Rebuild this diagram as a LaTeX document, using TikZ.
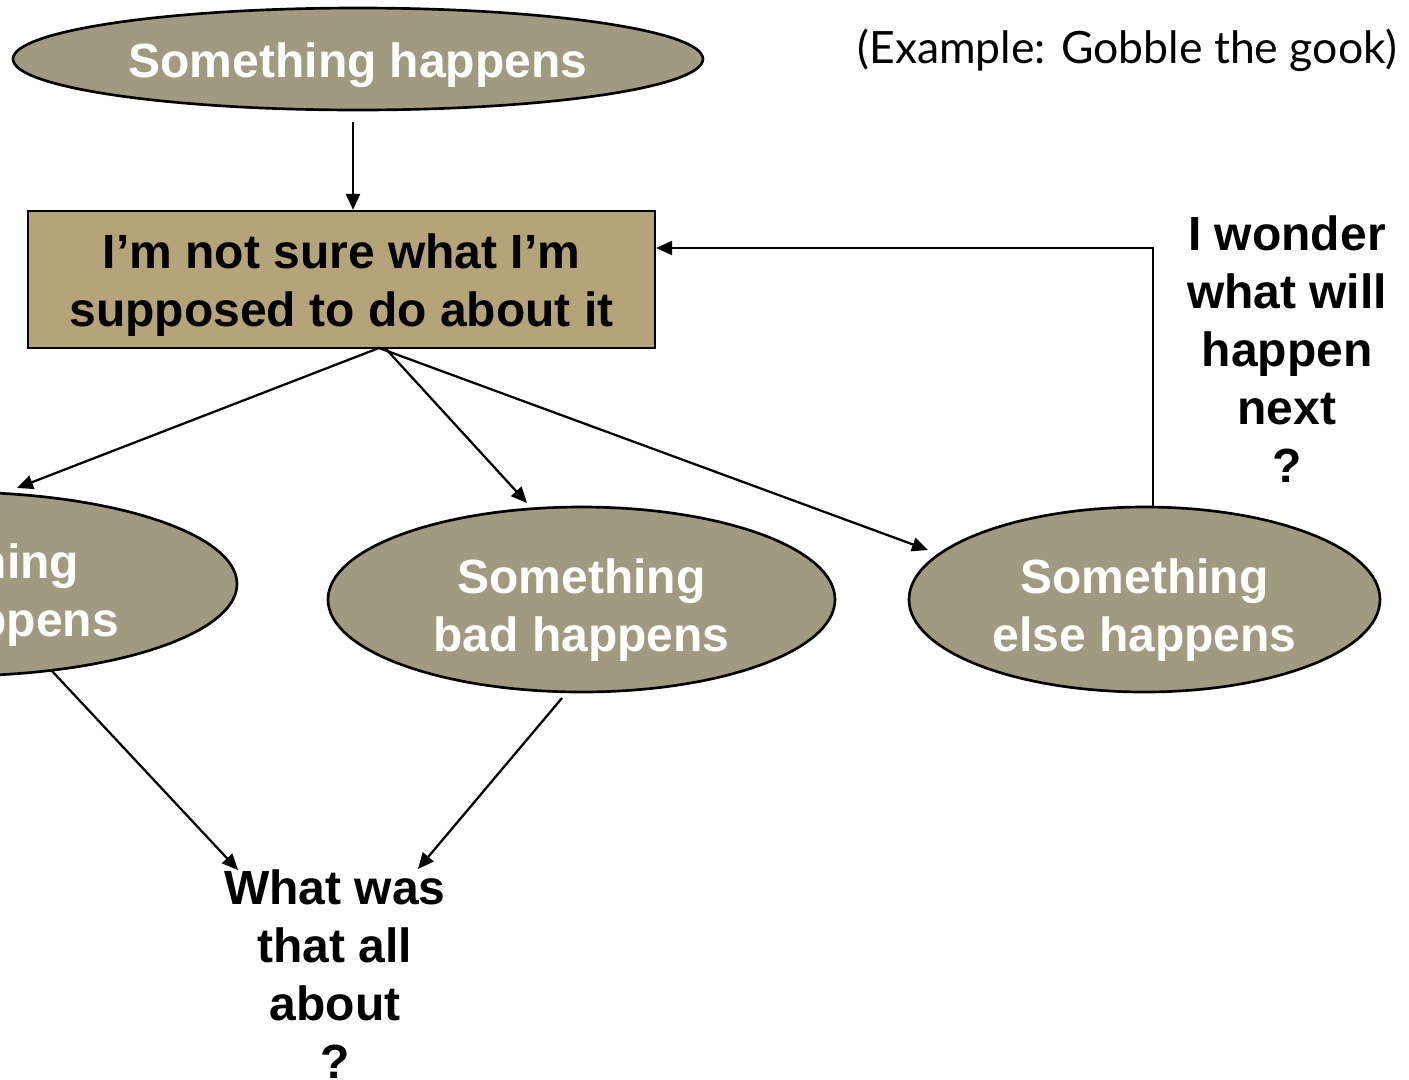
\documentclass[tikz,border=0pt]{standalone}
\usepackage{fontspec}
\setmainfont{Liberation Sans}
\newfontfamily\notefont{Lato}
\usetikzlibrary{arrows.meta,shapes.geometric}
\definecolor{ovalfill}{RGB}{162,154,128}
\definecolor{boxfill}{RGB}{181,164,122}
\begin{document}
\begin{tikzpicture}[x=0.75pt,y=-0.75pt,
  oval/.style={ellipse, draw=black, line width=2pt, fill=ovalfill, inner sep=0pt},
  % multi-line labels are placed by the baseline of their last line
  lbl/.style={font=\fontsize{36}{43.5}\selectfont\bfseries, align=center, inner sep=0pt, anchor=base},
  arr/.style={line width=1.7pt, -{Triangle[length=12pt,width=10.5pt]}},
]
\useasboundingbox (0,0) rectangle (1409,1079);
\clip (0,0) rectangle (1409,1079);

% shapes
\node[oval, minimum width=517.5pt, minimum height=76.5pt] (start) at (358,59) {};
\node[draw=black, line width=1.7pt, fill=boxfill, minimum width=470.25pt, minimum height=102.75pt, inner sep=0pt] (box) at (341.5,279.5) {};
\node[oval, minimum width=426pt, minimum height=138pt] (good) at (-47,584) {};
\node[oval, minimum width=380.25pt, minimum height=138.75pt] (bad) at (581.5,599.5) {};
\node[oval, minimum width=353.25pt, minimum height=138.75pt] (else) at (1144.5,599.5) {};

% texts
\node[lbl, text=white] (tstart) at (358,77) {Something happens};
\node[lbl] (tbox) at (341.5,326) {I’m not sure what I’m\\supposed to do about it};
\node[lbl, text=white] (tgood) at (-45,636) {Something\\good happens};
\node[lbl, text=white] (tbad) at (581.5,651) {Something\\bad happens};
\node[lbl, text=white] (telse) at (1144.5,651) {Something\\else happens};
\node[lbl] (wonder) at (1287,482) {I wonder\\what will\\happen\\next\\?};
\node[lbl] (what) at (335,1078) {What was\\that all\\about\\?};
\node[anchor=base, inner sep=0pt, font=\notefont\fontsize{33.4}{40}\selectfont] (note) at (1127.5,63) {(Example: Gobble the gook)};

% connectors
\coordinate (t1) at (353,122);
\draw[arr] (t1) -- (t1 |- box.north);
\coordinate (s1) at (379,348);
\coordinate (s2) at (386,349);
\coordinate (e1) at (17,488);
\coordinate (e2) at (527,503);
\coordinate (e3) at (928,550);
\draw[arr] (s1) -- (e1);
\draw[arr] (s2) -- (e2);
\draw[arr] (s1) -- (e3);
\coordinate (fb) at (1153,507);
\coordinate (fbin) at (box.east |- 0,248);
\draw[arr] (fb) |- (fbin);
\coordinate (g1) at (52,671);
\coordinate (q1) at (238,870);
\coordinate (b1) at (562,698);
\coordinate (q2) at (418,869);
\draw[arr] (g1) -- (q1);
\draw[arr] (b1) -- (q2);
\end{tikzpicture}
\end{document}
